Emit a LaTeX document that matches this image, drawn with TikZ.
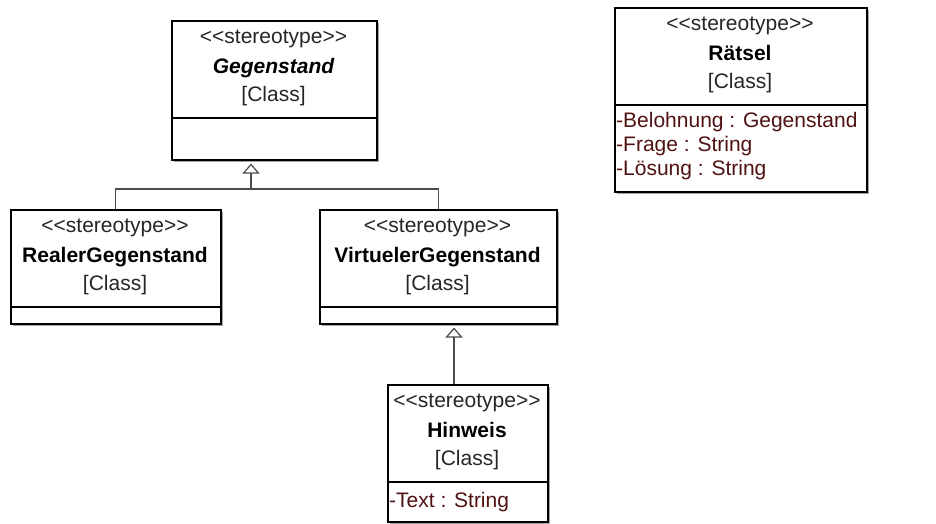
\documentclass[tikz,border=0pt]{standalone}
\usepackage{fontspec}
\setmainfont{Liberation Sans}
\usetikzlibrary{arrows.meta}
\definecolor{attrred}{RGB}{80,18,18}
\definecolor{shadowgray}{RGB}{165,165,165}
\tikzset{
  cls box/.style={draw=black,fill=white,line width=1.5pt,inner sep=0pt},
  cls shadow/.style={fill=shadowgray},
  cls line/.style={black,line width=1.3pt},
  cls text/.style={anchor=base,inner sep=0pt,font=\fontsize{21}{25}\selectfont,text=black!85},
  cls name/.style={cls text,font=\fontsize{21}{25}\selectfont\bfseries,text=black},
  cls attr/.style={anchor=base west,inner sep=0pt,font=\fontsize{21}{25}\selectfont,text=attrred},
  gen line/.style={black!70,line width=1.2pt},
  gen arrow/.style={gen line,-{Triangle[open,length=10pt,width=17pt,line width=1.2pt]},shorten >=3pt}
}
\newcommand{\stereotag}{<\kern0pt<stereotype>\kern0pt>}
\newcommand{\clsbox}[6]{%
  \fill[cls shadow] (#2+3,#3+3) rectangle ++(#4,#5);
  \node[cls box,anchor=north west,minimum width=#4,minimum height=#5] (#1) at (#2,#3) {};
  \draw[cls line] (#2,#3+98) -- ++(#4,0);
  \node[cls text] (#1 st) at (#2+#4/2,#3+23) {\stereotag};
  \node[cls name] (#1 nm) at (#2+#4/2,#3+53) {#6};
  \node[cls text] (#1 ty) at (#2+#4/2,#3+81) {[Class]};
}

\begin{document}
\begin{tikzpicture}[x=1pt,y=-1pt]
  \fill[white] (0,0) rectangle (936,523);
  \useasboundingbox (0,0) rectangle (936,523);
  % classes
  \clsbox{geg}{171}{20}{205}{139}{\itshape Gegenstand}
  \clsbox{real}{10}{209}{210}{114}{RealerGegenstand}
  \clsbox{virt}{319}{209}{237}{114}{VirtuelerGegenstand}
  \clsbox{hin}{387}{384}{160}{137}{Hinweis}
  \clsbox{raet}{614}{7}{252}{184}{Rätsel}
  % attributes
  \node[cls attr] (raet a1) at (616,127) {-Belohnung : Gegenstand};
  \node[cls attr] (raet a2) at (616,151) {-Frage : String};
  \node[cls attr] (raet a3) at (616,175) {-Lösung : String};
  \node[cls attr] (hin a1) at (389,507) {-Text : String};
  % generalisations
  \coordinate (gj) at (251,189);
  \coordinate (hj) at (454,350);
  \draw[gen line] (real.north) |- (gj) -| (virt.north);
  \draw[gen arrow] (gj) -- (gj |- geg.south);
  \draw[gen arrow] (hin.north -| hj) -- (virt.south -| hj);
\end{tikzpicture}
\end{document}
